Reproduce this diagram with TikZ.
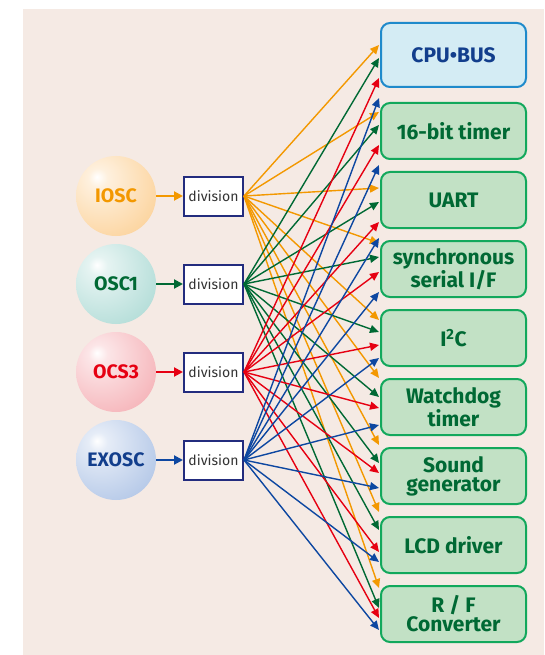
\documentclass[tikz,border=0pt]{standalone}
\usepackage{fontspec}
\setmainfont{Fira Sans}
\usetikzlibrary{arrows.meta}
\definecolor{bgc}{HTML}{F5EAE4}
\definecolor{cOr}{HTML}{F39800}
\definecolor{cGr}{HTML}{006934}
\definecolor{cRd}{HTML}{E60012}
\definecolor{cBl}{HTML}{0D47A1}
\definecolor{gFill}{HTML}{C2E1C5}
\definecolor{gLine}{HTML}{12A85C}
\definecolor{gText}{HTML}{006934}
\definecolor{bFill}{HTML}{D4ECF4}
\definecolor{bLine}{HTML}{1F8ACB}
\definecolor{bText}{HTML}{123E8C}
\definecolor{dLine}{HTML}{232C7E}
\definecolor{dText}{HTML}{333333}
\definecolor{ballOc}{HTML}{FBC47A}
\definecolor{ballGc}{HTML}{98D1CA}
\definecolor{ballRc}{HTML}{F299A0}
\definecolor{ballBc}{HTML}{99B4DF}
\pgfdeclareradialshading{ballO}{\pgfpoint{-12bp}{12bp}}{color(0bp)=(white); color(6bp)=(white!75!ballOc); color(55bp)=(ballOc); color(100bp)=(ballOc)}
\pgfdeclareradialshading{ballG}{\pgfpoint{-12bp}{12bp}}{color(0bp)=(white); color(6bp)=(white!75!ballGc); color(55bp)=(ballGc); color(100bp)=(ballGc)}
\pgfdeclareradialshading{ballR}{\pgfpoint{-12bp}{12bp}}{color(0bp)=(white); color(6bp)=(white!75!ballRc); color(55bp)=(ballRc); color(100bp)=(ballRc)}
\pgfdeclareradialshading{ballB}{\pgfpoint{-12bp}{12bp}}{color(0bp)=(white); color(6bp)=(white!75!ballBc); color(55bp)=(ballBc); color(100bp)=(ballBc)}
\tikzset{
  ball/.style={circle, minimum size=80pt, inner sep=0pt, font=\bfseries\fontsize{19.5}{21}\selectfont},
  divbox/.style={draw=dLine, line width=2pt, fill=white, minimum width=59pt, minimum height=39pt, inner sep=0pt, text=dText, font=\fontsize{14}{16}\selectfont},
  gbox/.style={draw=gLine, line width=2pt, fill=gFill, rounded corners=9pt, minimum width=145pt, minimum height=56pt, inner sep=0pt, text=gText, align=center, font=\bfseries\fontsize{21}{19}\selectfont},
  cbox/.style={gbox, draw=bLine, fill=bFill, text=bText, minimum height=64pt},
  feed/.style={line width=2pt, -{Triangle[length=9pt,width=9pt]}},
  fan/.style={line width=1.4pt, -{Triangle[length=9pt,width=8pt]}}
}
\begin{document}
\begin{tikzpicture}[x=1pt, y=-1pt]
\useasboundingbox (0,0) rectangle (544,655);
\fill[bgc] (23,9) rectangle (544,655);
% sources
\node[ball, shading=ballO, text=cOr] (c1) at (116,196) {IOSC};
\node[ball, shading=ballG, text=cGr] (c2) at (116,284) {OSC1};
\node[ball, shading=ballR, text=cRd] (c3) at (116,372) {OCS3};
\node[ball, shading=ballB, text=bText] (c4) at (116,460) {EXOSC};
\node[divbox] (d1) at (213.5,196) {division};
\node[divbox] (d2) at (213.5,284) {division};
\node[divbox] (d3) at (213.5,372) {division};
\node[divbox] (d4) at (213.5,460) {division};
\draw[feed, cOr] (c1) -- (d1);
\draw[feed, cGr] (c2) -- (d2);
\draw[feed, cRd] (c3) -- (d3);
\draw[feed, cBl] (c4) -- (d4);
% arrow end points
\foreach \k/\a/\b/\c/\d in {1/45/58/78/98, 2/112/125/145/165, 3/188/202/222/238, 4/243/257/272/292, 5/320/332/345/358, 6/378/397/408/425, 7/445/463/473/488, 8/512/530/552/562, 9/588/608/618/630}{
  \coordinate (o\k) at (379,\a);
  \coordinate (g\k) at (379,\b);
  \coordinate (r\k) at (379,\c);
  \coordinate (b\k) at (379,\d);
}
\foreach \k in {1,...,9}{
  \draw[fan, cOr] (d1.east) -- (o\k);
}
\foreach \k in {1,...,9}{
  \draw[fan, cGr] (d2.east) -- (g\k);
}
\foreach \k in {1,...,9}{
  \draw[fan, cRd] (d3.east) -- (r\k);
}
\foreach \k in {1,...,9}{
  \draw[fan, cBl] (d4.east) -- (b\k);
}
% targets
\node[cbox] (t1) at (453.5,55) {CPU•BUS};
\node[gbox] (t2) at (453.5,131) {16-bit timer};
\node[gbox] (t3) at (453.5,200) {UART};
\node[gbox] (t4) at (453.5,269) {synchronous\\serial I/F};
\node[gbox] (t5) at (453.5,338) {I\textsuperscript{2}C};
\node[gbox] (t6) at (453.5,407) {Watchdog\\timer};
\node[gbox] (t7) at (453.5,476) {Sound\\generator};
\node[gbox] (t8) at (453.5,545) {LCD driver};
\node[gbox] (t9) at (453.5,614) {R / F\\Converter};
\end{tikzpicture}
\end{document}
